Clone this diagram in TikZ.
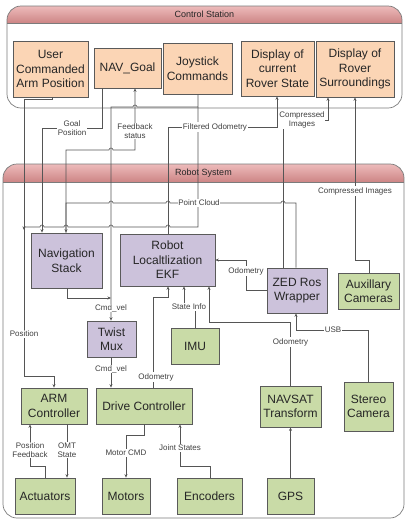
\documentclass[tikz,border=0pt]{standalone}
\usepackage{fontspec}
\setmainfont{Liberation Sans}
\usetikzlibrary{arrows.meta,positioning,calc}

\definecolor{stationfill}{HTML}{FBD5B5}
\definecolor{nodefill}{HTML}{CCC2DB}
\definecolor{devfill}{HTML}{C9DBA7}
\definecolor{headtop}{HTML}{EDBBBB}
\definecolor{headbot}{HTML}{CD8585}
\definecolor{boxline}{HTML}{5A5A5A}
\definecolor{wire}{HTML}{555555}

% line hops (leftwards / rightwards)
\newcommand{\hopl}[2]{-- ({#1+2},#2) arc[start angle=0,end angle=-180,radius=2]}
\newcommand{\hopr}[2]{-- ({#1-2},#2) arc[start angle=180,end angle=360,radius=2]}

\begin{document}
\begin{tikzpicture}[x=1pt,y=-1pt,
    box/.style={draw=boxline, line width=0.7pt, inner sep=0pt, align=center,
        font=\fontsize{12}{14.5}\selectfont, text=black!85},
    conn/.style={draw=wire, line width=0.6pt, -{Stealth[length=3.5pt,width=3pt]}},
    wireonly/.style={draw=wire, line width=0.6pt},
    lbl/.style={fill=white, inner sep=0.8pt, align=center, text=black!75,
        font=\fontsize{8}{9.5}\selectfont},
    frame/.style={draw=boxline!80, line width=0.7pt, rounded corners=14}]
    \useasboundingbox (0,0) rectangle (408,528);

    % Containers
    \begin{scope}
        \clip[rounded corners=14] (7,6) rectangle (402,108);
        \shade[top color=headtop, bottom color=headbot] (7,6) rectangle (402,23);
    \end{scope}
    \draw[boxline!80, line width=0.7pt] (7,23) -- (402,23);
    \draw[frame] (7,6) rectangle (402,108);
    \node[font=\fontsize{9}{11}\selectfont, text=black!85] (cstitle) at (204.5,14.5) {Control Station};

    \begin{scope}
        \clip[rounded corners=14] (3,164) rectangle (404,518);
        \shade[top color=headtop, bottom color=headbot] (3,164) rectangle (404,182);
    \end{scope}
    \draw[boxline!80, line width=0.7pt] (3,182) -- (404,182);
    \draw[frame] (3,164) rectangle (404,518);
    \node[font=\fontsize{9}{11}\selectfont, text=black!85] (rstitle) at (203.5,173) {Robot System};

    % Control station boxes
    \node[box, fill=stationfill, minimum width=75, minimum height=56] (user) at (50.5,69) {User\\Commanded\\Arm Position};
    \node[box, fill=stationfill, minimum width=67, minimum height=40] (navgoal) at (127.5,68) {NAV\_Goal};
    \node[box, fill=stationfill, minimum width=69, minimum height=51] (joy) at (197.5,68.5) {Joystick\\Commands};
    \node[box, fill=stationfill, minimum width=73, minimum height=55] (dispstate) at (277.5,68.5) {Display of\\current\\Rover State};
    \node[box, fill=stationfill, minimum width=78, minimum height=56] (dispsurr) at (355,69) {Display of\\Rover\\Surroundings};

    % Robot system boxes
    \node[box, fill=nodefill, minimum width=71, minimum height=55] (nav) at (66.5,260.5) {Navigation\\Stack};
    \node[box, fill=nodefill, minimum width=95, minimum height=52] (ekf) at (167.5,260) {Robot\\Localtlization\\EKF};
    \node[box, fill=nodefill, minimum width=60, minimum height=45] (zed) at (297,290.5) {ZED Ros\\Wrapper};
    \node[box, fill=devfill, minimum width=61, minimum height=36] (aux) at (368.5,291) {Auxillary\\Cameras};
    \node[box, fill=nodefill, minimum width=49, minimum height=36] (twist) at (111.5,339) {Twist\\Mux};
    \node[box, fill=devfill, minimum width=48, minimum height=36] (imu) at (195,346) {IMU};
    \node[box, fill=devfill, minimum width=66, minimum height=36] (arm) at (54,406) {ARM\\Controller};
    \node[box, fill=devfill, minimum width=96, minimum height=36] (drive) at (144,406) {Drive Controller};
    \node[box, fill=devfill, minimum width=61, minimum height=41] (navsat) at (290.5,406.5) {NAVSAT\\Transform};
    \node[box, fill=devfill, minimum width=49, minimum height=49] (stereo) at (368.5,406.5) {Stereo\\Camera};
    \node[box, fill=devfill, minimum width=60, minimum height=36] (act) at (45,496) {Actuators};
    \node[box, fill=devfill, minimum width=48, minimum height=36] (motors) at (126,496) {Motors};
    \node[box, fill=devfill, minimum width=65, minimum height=36] (enc) at (209.5,496) {Encoders};
    \node[box, fill=devfill, minimum width=47, minimum height=36] (gps) at (290.5,496) {GPS};

    % Station <-> robot links
    \draw[conn] (user.south -| 52,0) -- (52,99) -- (24,99) -- (24,376) -- (54,376) -- (arm.north);
    \node[lbl] (lpos) at (24,334) {Position};

    \draw[conn] (navgoal.south -| 102,0) -- (102,128) -- (42,128) -- (nav.north -| 42,0);
    \node[lbl] (lgoal) at (72,128) {Goal\\Position};

    \draw[conn] (nav.north -| 66,0) -- (66,150) \hopr{111}{150} -- (135,150) -- (navgoal.south -| 135,0);
    \node[lbl] (lfeed) at (135,131) {Feedback\\status};

    \draw[conn] (joy.south -| 198,0) -- (198,107) \hopl{135}{107} -- (111,107) -- (twist.north -| 111,0);
    \draw[conn] (198,107) -- (198,227) \hopl{168}{227} \hopl{111}{227} \hopl{66}{227} \hopl{42}{227} -- (24,227) -- (24,230);

    \draw[conn] (zed.north -| 296,0) -- (296,203) \hopl{283}{203} \hopl{168}{203} \hopl{111}{203} -- (66,203) -- (nav.north -| 66,0);
    \node[lbl] (lcloud) at (199,203) {Point Cloud};

    \draw[conn] (ekf.north -| 168,0) -- (168,127) -- (277,127) -- (dispstate.south -| 277,0);
    \node[lbl] (lfilt) at (215,127) {Filtered Odometry};

    \draw[conn] (zed.north -| 283,0) -- (283,120) -- (328,120) -- (dispsurr.south -| 328,0);
    \node[lbl] (lzedimg) at (302,120) {Compressed\\Images};

    \draw[conn] (aux.north -| 369,0) -- (369,260) -- (355,260) -- (dispsurr.south -| 355,0);
    \node[lbl] (lauximg) at (355,191) {Compressed Images};

    % Robot internal links
    \draw[conn] (nav.south -| 67,0) -- (67,298) -- (111,298);
    \node[lbl] (lcmda) at (111,308) {Cmd\_vel};

    \draw[conn] (twist.south -| 111,0) -- (drive.north -| 111,0);
    \node[lbl] (lcmdb) at (111,369) {Cmd\_vel};

    \draw[conn] (zed.west) -- (246,290.5) -- (246,260) -- (ekf.east |- 0,260);
    \node[lbl] (lodoa) at (246,271) {Odometry};

    \draw[conn] (imu.north) -- (195,307) -- (184,307) -- (ekf.south -| 184,0);
    \node[lbl] (lstate) at (189,307) {State Info};

    \draw[conn] (drive.north -| 153,0) -- (153,297) -- (168,297) -- (ekf.south -| 168,0);
    \node[lbl] (lodob) at (156,377) {Odometry};

    \draw[conn] (navsat.north) -- (290.5,322) -- (209,322) -- (ekf.south -| 209,0);
    \node[lbl] (lodoc) at (290.5,342) {Odometry};

    \draw[conn] (stereo.north) -- (368.5,330) -- (296,330) -- (zed.south -| 296,0);
    \node[lbl] (lusb) at (333,330) {USB};

    \draw[conn] (gps.north) -- (navsat.south);

    % Lower links
    \draw[conn] (act.north) -- (45,466) -- (30,466) -- (arm.south -| 30,0);
    \node[lbl] (lposfb) at (30,450) {Position\\Feedback};

    \draw[conn] (arm.south -| 67,0) -- (act.north -| 67,0);
    \node[lbl] (lomt) at (67,450) {OMT\\State};

    \draw[conn] (drive.south) -- (144,435) -- (126,435) -- (motors.north);
    \node[lbl] (lmotor) at (126,453) {Motor CMD};

    \draw[conn] (enc.north -| 210,0) -- (210,466) -- (180,466) -- (drive.south -| 180,0);
    \node[lbl] (ljoint) at (180,448) {Joint States};
\end{tikzpicture}
\end{document}
